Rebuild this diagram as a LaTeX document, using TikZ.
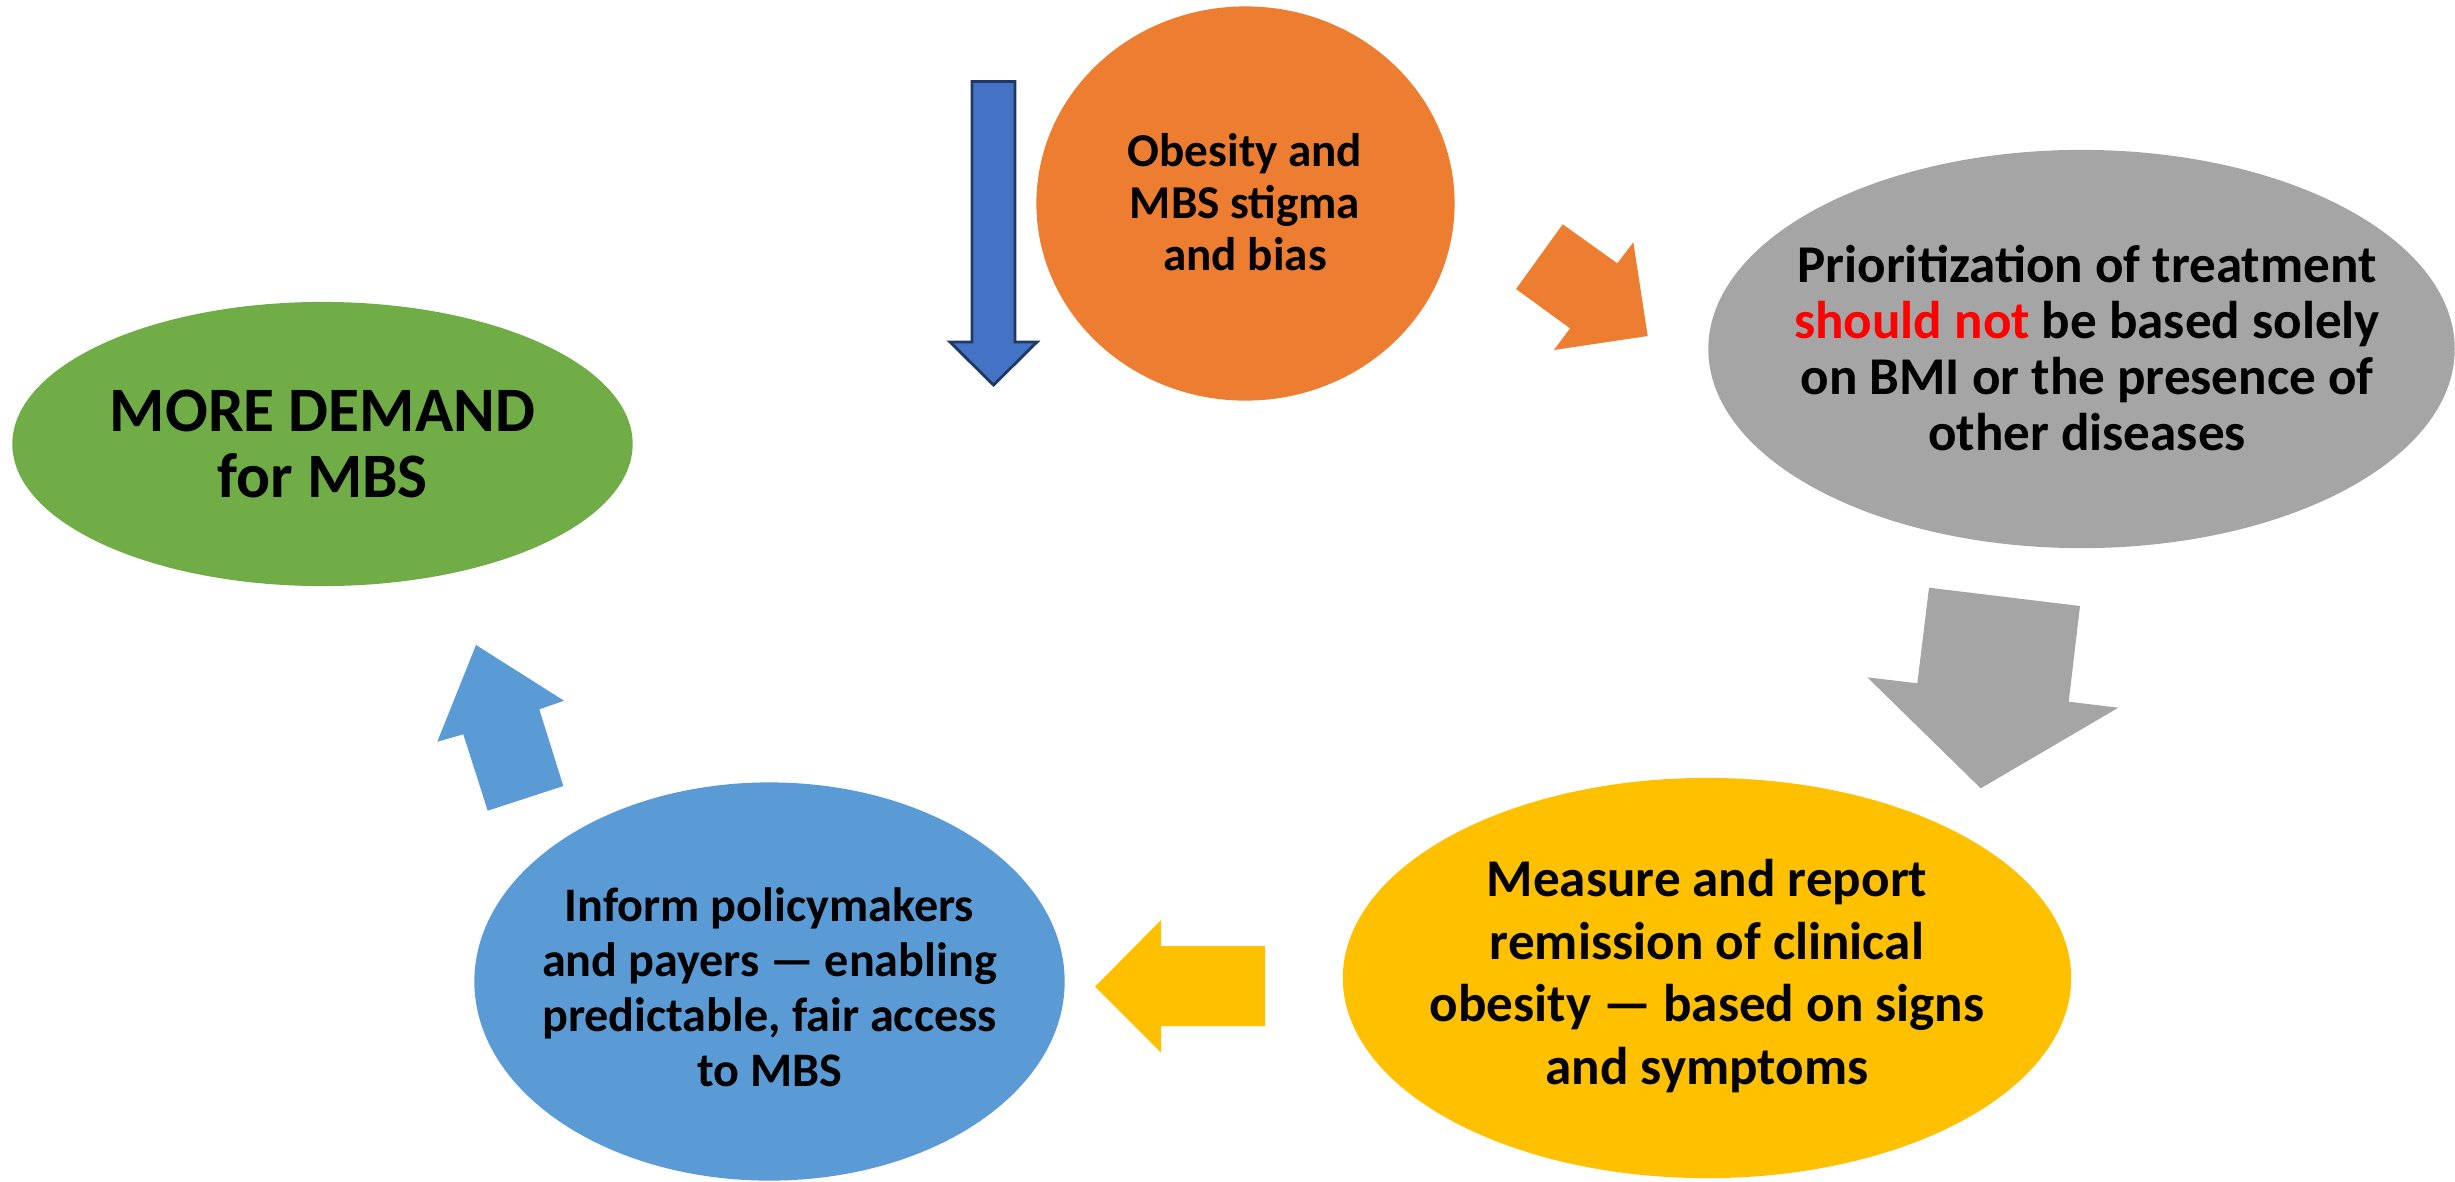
\documentclass[tikz,border=0pt]{standalone}
\usepackage{fontspec}
\setmainfont{Carlito}
\usetikzlibrary{shapes.geometric}
\definecolor{cgreen}{HTML}{70AD47}
\definecolor{corange}{HTML}{ED7D31}
\definecolor{cgray}{HTML}{A5A5A5}
\definecolor{cyellow}{HTML}{FFC000}
\definecolor{cblue}{HTML}{5B9BD5}
\definecolor{cdblue}{HTML}{4472C4}
\definecolor{cnavy}{HTML}{203864}
\definecolor{cred}{HTML}{FF0000}
\begin{document}
\begin{tikzpicture}[x=0.01cm,y=-0.01cm,
  blob/.style={ellipse, inner sep=0pt, draw=none},
  txt/.style={align=center, text=black, inner sep=0pt},
  blockarrow/.style={draw=none}]
\useasboundingbox (0,0) rectangle (2455,1181);
% ellipses
\node[blob, fill=cgreen, minimum width=6.2cm, minimum height=2.84cm] (green) at (322.5,444) {};
\node[blob, fill=corange, minimum width=4.18cm, minimum height=3.94cm] (orange) at (1245.5,203.5) {};
\node[blob, fill=cgray, minimum width=7.46cm, minimum height=3.98cm] (gray) at (2081.5,349) {};
\node[blob, fill=cyellow, minimum width=7.28cm, minimum height=4.0cm] (yellow) at (1707,978) {};
\node[blob, fill=cblue, minimum width=5.9cm, minimum height=3.98cm] (blue) at (769.5,981.5) {};
% texts
\node[txt, font=\bfseries\fontsize{18}{18.8}\selectfont] (greent) at (green.center) {MORE DEMAND\\for MBS};
\node[txt, font=\bfseries\fontsize{13.4}{14.7}\selectfont] (oranget) at (1245,202) {Obesity and\\MBS stigma\\and bias};
\node[txt, font=\bfseries\fontsize{15.1}{15.9}\selectfont] (grayt) at (2087,348) {Prioritization of treatment\\\textcolor{cred}{should not} be based solely\\on BMI or the presence of\\other diseases};
\node[txt, font=\bfseries\fontsize{15.1}{17.9}\selectfont] (yellowt) at (1707,976) {Measure and report\\remission of clinical\\obesity — based on signs\\and symptoms};
\node[txt, font=\bfseries\fontsize{13.7}{15.6}\selectfont] (bluet) at (769.5,987) {Inform policymakers\\and payers — enabling\\predictable, fair access\\to MBS};
% block arrows
\filldraw[fill=cdblue, draw=cnavy, line width=0.8pt, line join=miter] (972,81.5) -- (1015,81.5) -- (1015,342) -- (1037,342) -- (993.5,385) -- (950,342) -- (972,342) -- cycle;
\fill[corange] (1562.7,224.3) -- (1617.3,263.3) -- (1633.3,242.3) -- (1647.7,336) -- (1554,350) -- (1570,328.3) -- (1516,289) -- cycle;
\fill[cgray] (1929,587.7) -- (2080,606) -- (2068.7,701.7) -- (2118.3,707.7) -- (1980.7,788.3) -- (1867.3,677.3) -- (1917.3,683.3) -- cycle;
\fill[cyellow] (1265,946) -- (1161,946) -- (1161,920) -- (1095,986.7) -- (1161,1052.7) -- (1161,1026) -- (1265,1026) -- cycle;
\fill[cblue] (476,645) -- (564,700.7) -- (539.3,709.3) -- (563.3,786) -- (487.7,810.7) -- (463.3,734.3) -- (437.3,741.7) -- cycle;
\end{tikzpicture}
\end{document}
